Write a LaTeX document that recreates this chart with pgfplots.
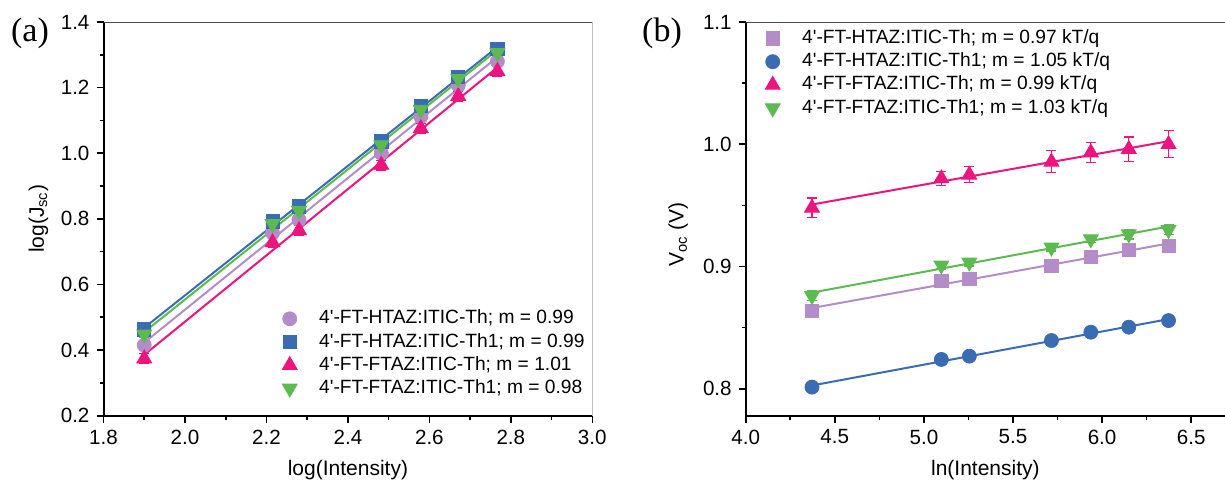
\documentclass[border=0pt]{standalone}
\usepackage{fontspec}
\setmainfont{Liberation Sans}[Ligatures=TeXOff]
\newfontfamily\seriffont{Liberation Serif}
\usepackage{pgfplots}
\usepackage{pgfplotstable}
\pgfplotsset{compat=1.18}

\definecolor{cP}{RGB}{180,140,200}
\definecolor{cB}{RGB}{58,108,180}
\definecolor{cK}{RGB}{238,20,128}
\definecolor{cG}{RGB}{92,186,80}

\pgfplotstableread{
x      yP     eP     yB     eB     yK     eK     yG     eG
1.900  0.415  0.010  0.463  0.008  0.374  0.015  0.448  0.010
2.215  0.757  0.010  0.792  0.008  0.728  0.015  0.785  0.010
2.280  0.797  0.010  0.838  0.008  0.765  0.015  0.825  0.010
2.482  1.000  0.010  1.036  0.008  0.964  0.015  1.025  0.010
2.579  1.111  0.010  1.144  0.008  1.076  0.015  1.133  0.010
2.671  1.207  0.010  1.232  0.008  1.174  0.015  1.227  0.010
2.767  1.280  0.010  1.318  0.008  1.250  0.015  1.306  0.010
}\dataA

\pgfplotstableread{
x      yP     eP     yB     eB     yK     eK      yG     eG
4.372  0.864  0.004  0.8014 0.002  0.948  0.0080  0.876  0.004
5.098  0.888  0.003  0.8240 0.002  0.972  0.0055  0.901  0.003
5.255  0.890  0.003  0.8267 0.002  0.975  0.0065  0.9034 0.003
5.716  0.9007 0.003  0.8395 0.002  0.9856 0.0090 0.9157 0.003
5.937  0.908  0.003  0.8463 0.003  0.9932 0.0080 0.9224 0.003
6.150  0.9137 0.003  0.8504 0.002  0.996  0.0100  0.9265 0.004
6.373  0.917  0.003  0.8558 0.002  1.000  0.0110  0.930  0.004
}\dataB

\pgfplotsset{
  panel/.style={
    scale only axis,
    anchor=south west,
    height=196.85pt,
    axis x line*=bottom,
    axis y line*=left,
    axis line style={-, black, line width=1pt},
    tick align=outside,
    major tick length=3.5pt,
    minor tick length=2pt,
    every tick/.style={black, line width=0.8pt},
    tick label style={font=\fontsize{10.3}{12}\selectfont},
    label style={font=\fontsize{10.5}{12.5}\selectfont},
    /pgf/number format/assume math mode=true,
    /pgf/number format/.cd, fixed, fixed zerofill, precision=1,
    /pgfplots/.cd,
    legend style={draw=none, fill=none, font=\fontsize{9.6}{11}\selectfont,
      anchor=north west, inner sep=0pt, row sep=2.6pt, column sep=11pt,
      nodes={inner sep=0pt, text height=7pt, text depth=2pt}},
    legend cell align=left,
    legend image code/.code={\draw[mark repeat=1,##1] plot coordinates {(0pt,0pt)};},
    error bars/error bar style={line width=0.6pt},
    error bars/error mark options={rotate=90, mark size=2.5pt, line width=0.6pt},
  },
}

\begin{document}
\begin{tikzpicture}
\path[use as bounding box] (0,0) rectangle (612.5pt,244pt);

% ---------- panel (a) ----------
\begin{axis}[panel,
  at={(51.75pt,36.15pt)}, width=244.4pt,
  xmin=1.8, xmax=3.0, ymin=0.2, ymax=1.4,
  xtick={1.8,2.0,...,3.0}, ytick={0.2,0.4,...,1.4},
  minor x tick num=1, minor y tick num=1,
  xlabel={log(Intensity)}, ylabel={log(J\textsubscript{sc})},
  xlabel style={at={(axis description cs:0.5,-0.138)}, anchor=center},
  ylabel style={at={(axis description cs:-0.133,0.5)}, anchor=center},
  legend style={at={(axis description cs:0.365,0.270)}},
]
\draw[black!70, line width=0.8pt] (rel axis cs:0,1) -- (rel axis cs:1,1) -- (rel axis cs:1,0);
\addplot[cP, line width=1pt, forget plot] table[x=x, y={create col/linear regression={y=yP}}] {\dataA};
\addplot[cB, line width=1pt, forget plot] table[x=x, y={create col/linear regression={y=yB}}] {\dataA};
\addplot[cK, line width=1pt, forget plot] table[x=x, y={create col/linear regression={y=yK}}] {\dataA};
\addplot[cG, line width=1pt, forget plot] table[x=x, y={create col/linear regression={y=yG}}] {\dataA};
\addplot[only marks, color=cP, mark=*, mark size=3.5pt, mark options={fill=cP, draw=cP},
  error bars/.cd, y dir=both, y explicit] table[x=x, y=yP, y error=eP] {\dataA};
\addlegendentry{4'-FT-HTAZ:ITIC-Th; m = 0.99}
\addplot[only marks, color=cB, mark=square*, mark size=3.3pt, mark options={fill=cB, draw=cB},
  error bars/.cd, y dir=both, y explicit] table[x=x, y=yB, y error=eB] {\dataA};
\addlegendentry{4'-FT-HTAZ:ITIC-Th1; m = 0.99}
\addplot[only marks, color=cK, mark=triangle*, mark size=4.3pt, mark options={fill=cK, draw=cK},
  error bars/.cd, y dir=both, y explicit] table[x=x, y=yK, y error=eK] {\dataA};
\addlegendentry{4'-FT-FTAZ:ITIC-Th; m = 1.01}
\addplot[only marks, color=cG, mark=triangle*, mark size=4.3pt, mark options={fill=cG, draw=cG, rotate=180},
  error bars/.cd, y dir=both, y explicit] table[x=x, y=yG, y error=eG] {\dataA};
\addlegendentry{4'-FT-FTAZ:ITIC-Th1; m = 0.98}
\end{axis}

% ---------- panel (b) ----------
\begin{axis}[panel,
  at={(372.85pt,36.15pt)}, width=239.65pt,
  xmin=4.0, xmax=6.69, ymin=0.778, ymax=1.1,
  xtick={4.0,4.5,...,6.5}, ytick={0.8,0.9,1.0,1.1},
  minor x tick num=1, minor y tick num=1,
  xlabel={ln(Intensity)}, ylabel={V\textsubscript{oc} (V)},
  xlabel style={at={(axis description cs:0.5,-0.138)}, anchor=center},
  ylabel style={at={(axis description cs:-0.141,0.46)}, anchor=center},
  legend style={at={(axis description cs:0.04,0.982)}},
]
\draw[black!70, line width=0.8pt] (rel axis cs:0,1) -- (rel axis cs:1,1);
\addplot[cP, line width=1pt, forget plot] table[x=x, y={create col/linear regression={y=yP}}] {\dataB};
\addplot[cB, line width=1pt, forget plot] table[x=x, y={create col/linear regression={y=yB}}] {\dataB};
\addplot[cK, line width=1pt, forget plot] table[x=x, y={create col/linear regression={y=yK}}] {\dataB};
\addplot[cG, line width=1pt, forget plot] table[x=x, y={create col/linear regression={y=yG}}] {\dataB};
\addplot[only marks, color=cP, mark=square*, mark size=3.3pt, mark options={fill=cP, draw=cP},
  error bars/.cd, y dir=both, y explicit] table[x=x, y=yP, y error=eP] {\dataB};
\addlegendentry{4'-FT-HTAZ:ITIC-Th; m = 0.97 kT/q}
\addplot[only marks, color=cB, mark=*, mark size=3.5pt, mark options={fill=cB, draw=cB},
  error bars/.cd, y dir=both, y explicit] table[x=x, y=yB, y error=eB] {\dataB};
\addlegendentry{4'-FT-HTAZ:ITIC-Th1; m = 1.05 kT/q}
\addplot[only marks, color=cK, mark=triangle*, mark size=4.3pt, mark options={fill=cK, draw=cK},
  error bars/.cd, y dir=both, y explicit] table[x=x, y=yK, y error=eK] {\dataB};
\addlegendentry{4'-FT-FTAZ:ITIC-Th; m = 0.99 kT/q}
\addplot[only marks, color=cG, mark=triangle*, mark size=4.3pt, mark options={fill=cG, draw=cG, rotate=180},
  error bars/.cd, y dir=both, y explicit] table[x=x, y=yG, y error=eG] {\dataB};
\addlegendentry{4'-FT-FTAZ:ITIC-Th1; m = 1.03 kT/q}
\end{axis}

\node[font=\seriffont\fontsize{17}{19}\selectfont] at (15pt,227.5pt) {(a)};
\node[font=\seriffont\fontsize{17}{19}\selectfont] at (331pt,227.5pt) {(b)};
\end{tikzpicture}
\end{document}
